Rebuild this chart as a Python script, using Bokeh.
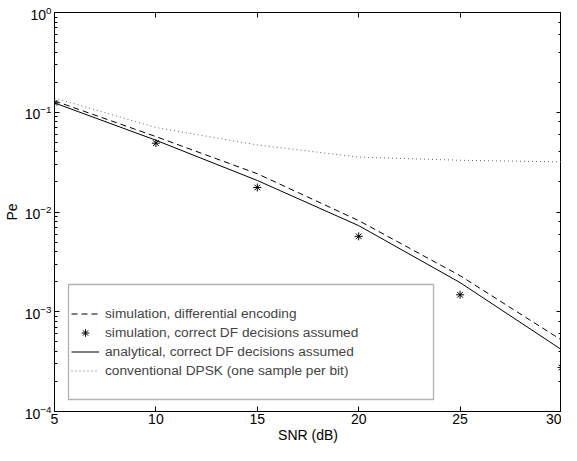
from bokeh.plotting import figure
from bokeh.models import (FixedTicker, LogAxis, LinearAxis, Legend, LegendItem,
                          BoxAnnotation, CustomJSTickFormatter)
from bokeh.embed import file_html
from bokeh.resources import INLINE

snr = [5, 10, 15, 20, 25, 30]
sim_diff = [0.130, 0.057, 0.0242, 0.0082, 0.0023, 0.00052]
sim_correct = [0.124, 0.049, 0.0176, 0.0057, 0.00148, 0.000277]
analytical = [0.124, 0.0524, 0.0207, 0.0073, 0.00196, 0.000417]
dpsk = [0.139, 0.0703, 0.047, 0.0355, 0.033, 0.0318]
x_ticks = [5, 10, 15, 20, 25, 30]
labels = ["simulation, differential encoding",
          "simulation, correct DF decisions assumed",
          "analytical, correct DF decisions assumed",
          "conventional DPSK (one sample per bit)"]

FONT = "Liberation Sans"
FS = "14px"

p = figure(width=561, height=445, y_axis_type="log", x_range=(5, 30),
           y_range=(1e-4, 1), output_backend="svg", toolbar_location=None,
           min_border_left=45, min_border_right=0, min_border_top=12,
           min_border_bottom=30)
p.xgrid.visible = False
p.ygrid.visible = False
p.outline_line_color = "black"
p.outline_line_width = 1
p.background_fill_color = "white"
p.border_fill_color = "white"

for ax in p.xaxis:
    ax.ticker = FixedTicker(ticks=x_ticks)
for ax in list(p.xaxis) + list(p.yaxis):
    ax.major_tick_in = 5
    ax.major_tick_out = 0
    ax.minor_tick_in = 3
    ax.minor_tick_out = 0
    ax.axis_line_color = "black"
    ax.major_label_text_font = FONT
    ax.major_label_text_font_size = FS
    ax.major_label_text_color = "black"
    ax.axis_label_text_font = FONT
    ax.axis_label_text_font_size = FS
    ax.axis_label_text_font_style = "normal"
    ax.axis_label_text_color = "black"
p.xaxis.major_label_standoff = 2
p.xaxis.axis_label_standoff = 0
p.yaxis.major_label_standoff = 3
p.yaxis.axis_label_standoff = 2
p.xaxis.axis_label = "SNR (dB)"
p.yaxis.axis_label = "Pe"

top = LinearAxis(ticker=FixedTicker(ticks=x_ticks),
                 formatter=CustomJSTickFormatter(code="return ''"),
                 major_tick_in=5, major_tick_out=0, major_label_standoff=0,
                 axis_line_color="black")
p.add_layout(top, "above")
right = LogAxis(formatter=CustomJSTickFormatter(code="return ''"),
                major_tick_in=5, major_tick_out=0, minor_tick_in=3, minor_tick_out=0,
                major_label_standoff=0, axis_line_color="black")
p.add_layout(right, "right")

r_dash = p.line(snr, sim_diff, line_color="black", line_width=1, line_dash="6 4")
r_star = p.scatter(snr, sim_correct, marker="asterisk", size=8, line_color="black",
                   line_width=1)
r_solid = p.line(snr, analytical, line_color="black", line_width=1)
r_dot = p.line(snr, dpsk, line_color="#666666", line_width=1, line_dash="1 3")

box = BoxAnnotation(left=14, right=379, bottom=12, top=127,
                    left_units="screen", right_units="screen",
                    top_units="screen", bottom_units="screen",
                    fill_color="white", fill_alpha=1, line_color="black",
                    line_width=1.3)
p.add_layout(box)

legend = Legend(items=[LegendItem(label=labels[0], renderers=[r_dash]),
                       LegendItem(label=labels[1], renderers=[r_star]),
                       LegendItem(label=labels[2], renderers=[r_solid]),
                       LegendItem(label=labels[3], renderers=[r_dot])],
                location=(17, 31), padding=0, spacing=0, margin=0,
                glyph_width=28, glyph_height=19, label_height=19,
                label_standoff=6, label_text_font=FONT, label_text_font_size="13.7px",
                border_line_color=None, background_fill_alpha=0)
p.add_layout(legend, "center")

open("out.html", "w").write(file_html(p, INLINE))
